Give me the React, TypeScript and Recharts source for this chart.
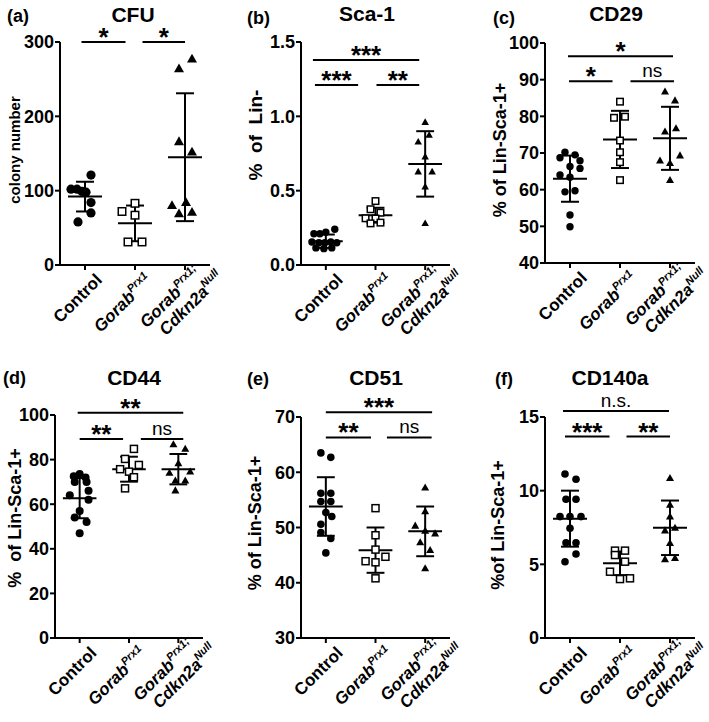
import React from 'react';
import { ScatterChart, Scatter, XAxis, YAxis, ReferenceLine, ReferenceDot } from 'recharts';

const FONT = '"Liberation Sans", Arial, Helvetica, sans-serif';

// ---------- category tick labels ----------
const tickLabelLines = [
  [{ text: 'Control', italic: false, sup: '' }],
  [{ text: 'Gorab', italic: true, sup: 'Prx1' }],
  [
    { text: 'Gorab', italic: true, sup: 'Prx1;' },
    { text: 'Cdkn2a', italic: true, sup: 'Null' },
  ],
];

// ---------- (a) CFU ----------
const cfuValues = [
  [121, 102, 102, 99, 98, 84, 70, 58],
  [83, 72, 67, 31, 31],
  [264, 277, 166, 152, 80, 84, 69, 71],
];
const cfuJitter = [
  [0.12, -0.28, -0.16, -0.06, 0.02, 0.12, 0.12, -0.14],
  [0, -0.26, 0, -0.14, 0.14],
  [-0.12, 0.14, -0.12, 0.14, -0.26, 0.02, -0.12, 0.14],
];
const cfuMean = [92, 56, 145];
const cfuSD = [20, 24, 86];
const cfuBrackets = [
  { from: 0.93, to: 1.81, y: 300, label: '*' },
  { from: 2.15, to: 3.0, y: 300, label: '*' },
];

// ---------- (b) Sca-1 ----------
const sca1Values = [
  [0.21, 0.21, 0.22, 0.24, 0.155, 0.15, 0.15, 0.155, 0.15, 0.115, 0.11, 0.115],
  [0.43, 0.375, 0.352, 0.314, 0.313, 0.28, 0.285],
  [0.96, 0.873, 0.828, 0.728, 0.627, 0.627, 0.526, 0.28],
];
const sca1Jitter = [
  [-0.24, -0.12, 0, 0.18, -0.28, -0.14, -0.02, 0.1, 0.22, -0.2, -0.04, 0.12],
  [0, -0.1, 0.1, -0.2, 0, -0.1, 0.1],
  [0, 0.08, -0.14, 0, -0.14, 0.14, 0, 0],
];
const sca1Mean = [0.16, 0.335, 0.68];
const sca1SD = [0.045, 0.05, 0.22];
const sca1Brackets = [
  { from: 0.74, to: 2.88, y: 1.379, label: '***' },
  { from: 0.78, to: 1.65, y: 1.211, label: '***' },
  { from: 2.02, to: 2.88, y: 1.211, label: '**' },
];

// ---------- (c) CD29 ----------
const cd29Values = [
  [70.2, 68.7, 69.5, 67.9, 66.3, 65.8, 64.0, 63.4, 59.4, 59.7, 53.1, 49.9],
  [84.0, 79.6, 79.9, 73.4, 70.2, 67.5, 62.6],
  [86.7, 84.3, 75.8, 76.7, 67.9, 67.2, 69.3, 62.6],
];
const cd29Jitter = [
  [-0.1, -0.2, 0.1, 0.2, 0, 0.2, -0.2, 0, -0.1, 0.1, 0, 0],
  [0, -0.12, 0.1, 0, 0, 0, 0],
  [-0.1, 0.1, -0.1, 0.12, -0.2, 0, 0.2, 0],
];
const cd29Mean = [63, 73.7, 74];
const cd29SD = [6.3, 7.8, 8.6];
const cd29Brackets = [
  { from: 0.96, to: 3.06, y: 96.4, label: '*' },
  { from: 0.98, to: 1.85, y: 89.6, label: '*' },
  { from: 2.21, to: 3.08, y: 89.6, label: 'ns' },
];

// ---------- (d) CD44 ----------
const cd44Values = [
  [73.5, 72.5, 72, 70, 70, 66, 64, 62, 57, 54, 52, 47],
  [84.8, 80.3, 77.6, 75.7, 74.6, 72.1, 67.1],
  [86.8, 84.8, 78.3, 74, 74.6, 70.5, 70.5, 66.1],
];
const cd44Jitter = [
  [0, -0.12, 0.12, -0.1, 0.14, 0.18, -0.2, 0.18, 0, -0.1, 0.14, 0],
  [0.1, -0.08, 0.2, -0.18, 0, 0.1, -0.08],
  [-0.1, 0.14, 0, -0.18, 0.24, -0.06, 0.14, -0.06],
];
const cd44Mean = [62.7, 75.7, 75.7];
const cd44SD = [9, 5.6, 6.8];
const cd44Brackets = [
  { from: 0.96, to: 3.1, y: 101, label: '**' },
  { from: 1.0, to: 1.88, y: 89.2, label: '**' },
  { from: 2.24, to: 3.1, y: 89.2, label: 'ns' },
];

// ---------- (e) CD51 ----------
const cd51Values = [
  [63.5, 62.7, 56.2, 56.2, 54.7, 54.7, 52.7, 52, 50.6, 49.1, 48, 45.4],
  [53.5, 48.6, 46.0, 43.9, 44.7, 43.7, 40.8],
  [57.2, 52.9, 50.3, 49.4, 48.9, 47.3, 45.9, 42.6],
];
const cd51Jitter = [
  [-0.1, 0.1, -0.1, 0.1, -0.1, 0.1, 0, 0.12, -0.1, -0.1, 0.1, 0],
  [0, 0, 0, -0.2, 0.2, 0, 0],
  [0, 0, -0.2, 0, 0.2, -0.1, 0.1, 0],
];
const cd51Mean = [53.8, 45.9, 49.3];
const cd51SD = [5.3, 4.1, 4.5];
const cd51Brackets = [
  { from: 1.0, to: 3.14, y: 70.85, label: '***' },
  { from: 1.0, to: 1.91, y: 66.3, label: '**' },
  { from: 2.23, to: 3.13, y: 66.3, label: 'ns' },
];

// ---------- (f) CD140a ----------
const cd140Values = [
  [11.13, 10.77, 9.42, 9.42, 8.24, 8.24, 8.24, 7.45, 6.47, 6.47, 5.7, 5.18],
  [5.93, 5.93, 5.63, 5.18, 4.5, 4.0, 4.05],
  [10.84, 9.03, 8.24, 7.29, 7.47, 6.43, 5.34, 5.41],
];
const cd140Jitter = [
  [-0.1, 0.12, -0.08, 0.12, -0.2, 0, 0.22, 0, -0.08, 0.12, 0.12, -0.1],
  [-0.1, 0.1, -0.1, 0.1, -0.2, 0, 0.2],
  [0, 0, 0, -0.1, 0.1, 0, -0.1, 0.1],
];
const cd140Mean = [8.1, 5.07, 7.48];
const cd140SD = [1.9, 0.8, 1.85];
const cd140Brackets = [
  { from: 0.86, to: 2.98, y: 15.41, label: 'n.s.' },
  { from: 0.9, to: 1.79, y: 13.67, label: '***' },
  { from: 2.13, to: 3.0, y: 13.67, label: '**' },
];

// ---------- panel layout / style config ----------
const panels = [
  {
    key: 'a', values: cfuValues, jitter: cfuJitter, mean: cfuMean, sd: cfuSD, brackets: cfuBrackets,
    domain: [0, 300], ticks: [0, 100, 200, 300], decimals: 0,
    box: { x0: 60, x1: 210, y0: 42, y1: 265 }, mb: 57, sizes: { r: 4.6, sq: 7.5, tri: 10 },
    title: { text: 'CFU', x: 133, y: 22 }, letter: { text: '(a)', x: 7, y: 22 },
    yLabel: { text: 'colony number', x: 15, y: 150, size: 15 },
  },
  {
    key: 'b', values: sca1Values, jitter: sca1Jitter, mean: sca1Mean, sd: sca1SD, brackets: sca1Brackets,
    domain: [0, 1.5], ticks: [0, 0.5, 1, 1.5], decimals: 1,
    box: { x0: 301, x1: 450, y0: 42, y1: 265 }, mb: 57, sizes: { r: 3.7, sq: 6.5, tri: 7.5 },
    title: { text: 'Sca-1', x: 367, y: 21 }, letter: { text: '(b)', x: 247, y: 24 },
    yLabel: { text: '%  of  Lin-', x: 255, y: 135, size: 19 },
  },
  {
    key: 'c', values: cd29Values, jitter: cd29Jitter, mean: cd29Mean, sd: cd29SD, brackets: cd29Brackets,
    domain: [40, 100], ticks: [40, 50, 60, 70, 80, 90, 100], decimals: 0,
    box: { x0: 545, x1: 695, y0: 43, y1: 263 }, mb: 59, sizes: { r: 3.7, sq: 6.5, tri: 8 },
    title: { text: 'CD29', x: 616, y: 21 }, letter: { text: '(c)', x: 493, y: 24 },
    yLabel: { text: '% of Lin-Sca-1+', x: 500, y: 150, size: 18 },
  },
  {
    key: 'd', values: cd44Values, jitter: cd44Jitter, mean: cd44Mean, sd: cd44SD, brackets: cd44Brackets,
    domain: [0, 100], ticks: [0, 20, 40, 60, 80, 100], decimals: 0,
    box: { x0: 55, x1: 203, y0: 415, y1: 638 }, mb: 50, sizes: { r: 4, sq: 7, tri: 8 },
    title: { text: 'CD44', x: 134, y: 385 }, letter: { text: '(d)', x: 3, y: 384 },
    yLabel: { text: '%  of Lin-Sca-1+', x: 15, y: 518, size: 18 },
  },
  {
    key: 'e', values: cd51Values, jitter: cd51Jitter, mean: cd51Mean, sd: cd51SD, brackets: cd51Brackets,
    domain: [30, 70], ticks: [30, 40, 50, 60, 70], decimals: 0,
    box: { x0: 301, x1: 450, y0: 417, y1: 638 }, mb: 50, sizes: { r: 3.8, sq: 7, tri: 8 },
    title: { text: 'CD51', x: 376, y: 385 }, letter: { text: '(e)', x: 247, y: 385 },
    yLabel: { text: '% of Lin-Sca-1+', x: 255, y: 523, size: 18 },
  },
  {
    key: 'f', values: cd140Values, jitter: cd140Jitter, mean: cd140Mean, sd: cd140SD, brackets: cd140Brackets,
    domain: [0, 15], ticks: [0, 5, 10, 15], decimals: 0,
    box: { x0: 545, x1: 695, y0: 417, y1: 638 }, mb: 50, sizes: { r: 3.8, sq: 7, tri: 8 },
    title: { text: 'CD140a', x: 610, y: 385 }, letter: { text: '(f)', x: 495, y: 385 },
    yLabel: { text: '%of Lin-Sca-1+', x: 498, y: 525, size: 18 },
  },
];

const kinds = ['circle', 'square', 'triangle'];

const makeShape = (kind: string, sizes: any) => (p: any) => {
  const { cx, cy } = p;
  if (cx == null || cy == null) return <g />;
  if (kind === 'circle') return <circle cx={cx} cy={cy} r={sizes.r} fill="#000" />;
  if (kind === 'square') {
    const s = sizes.sq;
    return <rect x={cx - s / 2} y={cy - s / 2} width={s} height={s} fill="#fff" stroke="#000" strokeWidth={1.5} />;
  }
  const w = sizes.tri;
  const h = w * 0.88;
  return <polygon points={`${cx},${cy - h * 0.6} ${cx - w / 2},${cy + h * 0.4} ${cx + w / 2},${cy + h * 0.4}`} fill="#000" />;
};

const XTick = (props: any) => {
  const { x, y, payload } = props;
  const idx = Math.round(payload.value) - 1;
  const lines = tickLabelLines[idx] || [];
  const pos = lines.length === 1 ? [{ u: 0, v: 0 }] : [{ u: 4, v: -6 }, { u: 17, v: 13 }];
  return (
    <g transform={`translate(${x + 18},${y + 9}) rotate(-45)`}>
      {lines.map((ln, i) => (
        <text
          key={i}
          x={pos[i].u}
          y={pos[i].v}
          textAnchor="end"
          fontFamily={FONT}
          fontWeight={700}
          fontSize={17}
          fill="#000"
        >
          <tspan fontStyle={ln.italic ? 'italic' : 'normal'}>{ln.text}</tspan>
          {ln.sup ? (
            <tspan fontStyle="italic" fontSize={11} dy={-7}>{ln.sup}</tspan>
          ) : null}
        </text>
      ))}
    </g>
  );
};

const Panel = ({ cfg }: { cfg: any }) => {
  const yw = 50;
  const mr = 12;
  const mt = 30;
  const xh = 30;
  const { box } = cfg;
  const L = box.x0 - yw;
  const W = box.x1 - L + mr;
  const T = box.y0 - mt;
  const H = box.y1 + xh + cfg.mb - T;
  const axisStyle = { stroke: '#000', strokeWidth: 2 };
  const summaryLines: any[] = [];
  cfg.mean.forEach((m: number, i: number) => {
    const g = i + 1;
    const s = cfg.sd[i];
    summaryLines.push([{ x: g - 0.34, y: m }, { x: g + 0.34, y: m }]);
    summaryLines.push([{ x: g, y: m - s }, { x: g, y: m + s }]);
    summaryLines.push([{ x: g - 0.18, y: m + s }, { x: g + 0.18, y: m + s }]);
    summaryLines.push([{ x: g - 0.18, y: m - s }, { x: g + 0.18, y: m - s }]);
  });
  return (
    <div style={{ position: 'absolute', left: L, top: T }}>
      <ScatterChart width={W} height={H} margin={{ top: mt, right: mr, bottom: cfg.mb, left: 0 }}>
        <XAxis
          type="number"
          dataKey="x"
          domain={[0.5, 3.5]}
          ticks={[1, 2, 3]}
          interval={0}
          height={xh}
          tickSize={5}
          axisLine={axisStyle}
          tickLine={axisStyle}
          tick={(p: any) => <XTick {...p} />}
        />
        <YAxis
          type="number"
          dataKey="y"
          domain={cfg.domain}
          ticks={cfg.ticks}
          interval={0}
          width={yw}
          tickSize={5}
          tickMargin={1}
          axisLine={axisStyle}
          tickLine={axisStyle}
          tickFormatter={(v: number) => v.toFixed(cfg.decimals)}
          tick={{ fill: '#000', fontSize: 18, fontWeight: 700, fontFamily: FONT }}
        />
        {summaryLines.map((seg, i) => (
          <ReferenceLine key={'s' + i} segment={seg} stroke="#000" strokeWidth={2} ifOverflow="visible" />
        ))}
        {cfg.brackets.map((b: any, i: number) => (
          <ReferenceLine
            key={'b' + i}
            segment={[{ x: b.from, y: b.y }, { x: b.to, y: b.y }]}
            stroke="#000"
            strokeWidth={2}
            ifOverflow="visible"
          />
        ))}
        {cfg.values.map((vals: number[], gi: number) => (
          <Scatter
            key={'g' + gi}
            data={vals.map((v, j) => ({ x: gi + 1 + cfg.jitter[gi][j], y: v }))}
            shape={makeShape(kinds[gi], cfg.sizes)}
            isAnimationActive={false}
          />
        ))}
        {cfg.brackets.map((b: any, i: number) => {
          const isStar = b.label.indexOf('*') >= 0;
          return (
            <ReferenceDot
              key={'l' + i}
              x={(b.from + b.to) / 2}
              y={b.y}
              r={0}
              ifOverflow="visible"
              shape={(p: any) => (
                <text
                  x={p.cx}
                  y={isStar ? p.cy + 4 : p.cy - 4}
                  textAnchor="middle"
                  fontFamily={FONT}
                  fontWeight={isStar ? 700 : 400}
                  fontSize={isStar ? 26 : 19}
                  fill="#000"
                >
                  {b.label}
                </text>
              )}
            />
          );
        })}
      </ScatterChart>
    </div>
  );
};

export default function App() {
  return (
    <div style={{ position: 'relative', width: 709, height: 722, overflow: 'hidden', background: '#fff', fontFamily: FONT }}>
      <style>{'body{margin:0;background:#fff;}'}</style>
      {panels.map((cfg) => (
        <Panel key={cfg.key} cfg={cfg} />
      ))}
      <svg width={709} height={722} style={{ position: 'absolute', left: 0, top: 0, pointerEvents: 'none' }}>
        {panels.map((cfg) => (
          <g key={'t' + cfg.key} fontFamily={FONT} fill="#000">
            <text x={cfg.title.x} y={cfg.title.y} textAnchor="middle" fontSize={21} fontWeight={700}>
              {cfg.title.text}
            </text>
            <text x={cfg.letter.x} y={cfg.letter.y} fontSize={18} fontWeight={700}>
              {cfg.letter.text}
            </text>
            <text
              transform={`translate(${cfg.yLabel.x},${cfg.yLabel.y}) rotate(-90)`}
              textAnchor="middle"
              dy="0.36em"
              fontSize={cfg.yLabel.size}
              fontWeight={700}
              style={{ whiteSpace: 'pre' }}
            >
              {cfg.yLabel.text}
            </text>
          </g>
        ))}
      </svg>
    </div>
  );
}
